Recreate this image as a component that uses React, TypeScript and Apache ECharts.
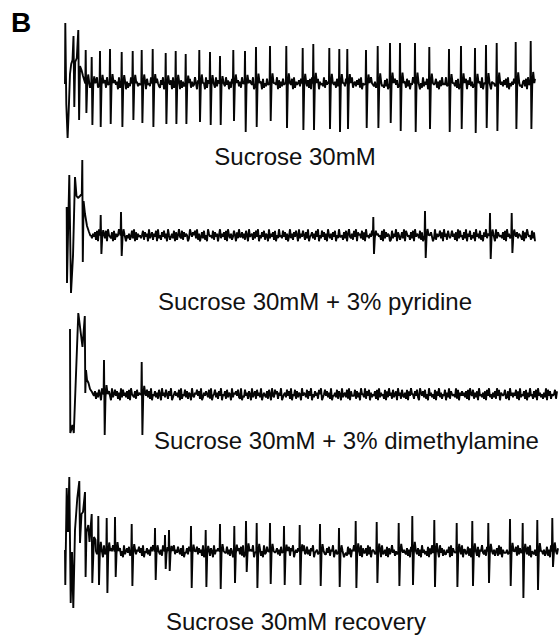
import React, { useEffect, useRef } from "react";
import * as echarts from "echarts";

// ---------- Data (time along the sweep, amplitude in µV-like units) ----------
const LABELS = [
  "Sucrose 30mM",
  "Sucrose 30mM + 3% pyridine",
  "Sucrose 30mM + 3% dimethylamine",
  "Sucrose 30mM recovery",
];
const PANEL_LETTER = "B";

const TRACE_END = [535, 535, 557, 558];
const NOISE_START = [85, 91, 94, 96];

// onset artefacts [time, amplitude]
const ONSET_1: number[][] = [
  [65, 0], [65.3, 61], [66.3, -20], [67.6, -54], [68.6, -30], [70, 10], [71.2, 20], [72.5, 24],
  [73.5, 48], [74.3, -23], [75.2, 22], [76.8, 26], [78.3, 54], [79.1, -36], [80, 18], [81.5, 14],
  [83, 8], [84.5, 3],
];
const ONSET_2: number[][] = [
  [66.7, 29], [67, -47], [69.3, 61], [71, -57], [73, -20], [75, 59], [76.5, 40], [78, 38], [80, 40],
  [81.8, 42], [82.3, 76], [82.8, -26], [83.6, 35], [85, 22], [87, 10], [89, 4], [90.5, 0],
];
const ONSET_3: number[][] = [
  [70, 66], [70.3, -38], [72.5, -30], [73.8, -38], [78.3, 82], [82.5, 48], [84.8, 79], [85.3, 2],
  [86, 25], [87, 15], [88.5, 12], [90, 6], [92, 3], [93.5, 0],
];
const ONSET_4: number[][] = [
  [65, 2], [65.3, -33], [66.7, 64], [68, 20], [69.3, 75], [70.7, -51], [72, 0], [73.3, -56],
  [75, 22], [77.3, 54], [79.3, 71], [80, 9], [81.5, 38], [83, 40], [85, 60], [85.6, -25],
  [86.5, 20], [88.3, 27], [89.5, 10], [91.7, 38], [92.3, -31], [94, 15], [95.5, 12],
];

// spikes: time, upward peak, downward trough
const SPIKE_T_1 = [85.7, 91.7, 100, 110, 121.7, 132.7, 141.7, 152.7, 165.7, 175.7, 185.7, 199.3, 210, 220, 233.3, 245, 256, 270, 286.3, 302.7, 313.3, 329.3, 339.3, 347.3, 366, 377.7, 390, 400, 415, 429.3, 449, 461, 475, 486, 496.7, 515.7, 530.7];
const SPIKE_UP_1 = [34, 27, 33, 35, 32, 33, 34, 35, 31, 33, 30, 34, 32, 28, 34, 33, 37, 38, 38, 36, 40, 36, 35, 35, 34, 38, 41, 41, 41, 37, 35, 38, 36, 39, 41, 42, 43];
const SPIKE_DOWN_1 = [29, 41, 43, 40, 43, 36, 39, 43, 40, 40, 40, 38, 41, 41, 37, 48, 43, 37, 44, 46, 46, 45, 48, 45, 44, 44, 39, 47, 48, 45, 48, 45, 49, 44, 47, 45, 45];

const SPIKE_T_2 = [100.7, 121, 373.3, 425, 490, 511.7];
const SPIKE_UP_2 = [21, 24, 19, 25, 23, 23];
const SPIKE_DOWN_2 = [18, 20, 18, 22, 23, 17];

const SPIKE_T_3 = [104, 141.7];
const SPIKE_UP_3 = [35, 33];
const SPIKE_DOWN_3 = [40, 40];

const SPIKE_T_4 = [98.3, 106.7, 115, 131.7, 155, 165, 169, 191, 205.7, 220, 234.3, 246, 256.7, 270, 284, 299.7, 320, 339, 355.7, 376.7, 398.7, 412.3, 434.3, 456.7, 472.3, 488.3, 510, 522.7, 537.3, 552.3];
const SPIKE_UP_4 = [36, 34, 35, 28, 24, 17, 22, 26, 22, 28, 26, 31, 29, 29, 26, 27, 28, 24, 31, 30, 29, 36, 32, 29, 31, 29, 33, 29, 32, 34];
const SPIKE_DOWN_4 = [33, 41, 25, 34, 28, 17, 19, 36, 35, 37, 31, 20, 36, 32, 33, 33, 34, 35, 36, 31, 34, 33, 35, 35, 34, 31, 34, 46, 38, 15];

// baseline noise, read as digits 0..9 (4.5 = baseline), one sample per time unit
const NOISE_1 =
  "46358274153692648153729461835274619253847162539481" +
  "72635493726184539271648532749163528471926354817263" +
  "94571826349517263845192736481529374618253947162835" +
  "48173629541836275491529374618253847162935491726384" +
  "51362748192645738192463728194537281645392746185394" +
  "62839471553827461925637482915463728195436271859342" +
  "73816452938472615394628371549263847152936481725394" +
  "58261739454938271645372819463528174936251847362915" +
  "47392816553728194637482915364827159342673819462537" +
  "81942736553619284753928164735261948372615394827163";
const NOISE_2 =
  "53647281934627381954371826459362748153624839172645" +
  "35827461935726481935274836195246381725943827465139" +
  "64758392614738251964538274615936472819536248517394" +
  "47362851945627384915374826519364728153945384726149" +
  "36274851936485273914573628491538472619536274815394" +
  "45273816943628491756382719453648291736452819374651" +
  "28364917524739186452738194653827149362857413926458" +
  "37194628535846271938452739164825371946382517493628" +
  "46281937545372819463529184736542817396452837194625" +
  "39472815666381927454728361945236471859342681739452";
const NOISE_3 =
  "47263851946358274193584726193846372819543728465193" +
  "56483729154736285194638527491357463819254837265194" +
  "36584729136475382914583627491547283651936574832914" +
  "38462751935728463914643728519438572649135638472915" +
  "48273651946538274915374628591358473629144638275193" +
  "56382917444827361955392748163547281936452817394628" +
  "35719462843628174955274831964738251946352817493625" +
  "48163927545392816474637281954826371945362718493526" +
  "37294816545823719463648271935472816394527381946352" +
  "63918472545827361943749281653648172935462817394625";
const NOISE_4 =
  "53728461934628375914638472519357482639143658472915" +
  "47362859135847362914362847519364853729144738265193" +
  "58374629143648275193657483291448362751935647382915" +
  "37284659146483725193485736291457362849153648275914" +
  "64728351934836275914563847291337482659146385274913" +
  "42837165946538291744729381565384726193462817359462" +
  "53819274643726185945837261946352817394628351947263" +
  "36481927545274839166348271953742816594362817459362" +
  "57293816444638271955829374616473829154362719485362" +
  "48261937555374829163648271945372816394527381946253";

const NOISE_GAIN = 1.5;
const NOISE_STEP = 1;

function buildTrace(
  onset: number[][],
  noise: string,
  noiseStart: number,
  end: number,
  spikeT: number[],
  spikeUp: number[],
  spikeDown: number[]
): number[][] {
  const pts: number[][] = onset.map((p) => [p[0], p[1]]);
  const digits = noise.split("").map(Number);
  const nearSpike = (t: number) => spikeT.some((s) => t > s - 1.2 && t < s + 4.2);
  for (let i = 0; i < digits.length; i++) {
    const t = noiseStart + i * NOISE_STEP;
    if (t > end) break;
    if (nearSpike(t)) continue;
    pts.push([t, (digits[i] - 4.5) * NOISE_GAIN]);
  }
  spikeT.forEach((s, k) => {
    pts.push(
      [s - 0.4, 0.5],
      [s, spikeUp[k]],
      [s + 0.7, -spikeDown[k]],
      [s + 1.5, -2],
      [s + 2.5, spikeUp[k] * 0.28],
      [s + 3.6, 1]
    );
  });
  pts.sort((a, b) => a[0] - b[0]);
  return pts;
}

export default function App() {
  const ref = useRef<HTMLDivElement>(null);
  useEffect(() => {
    document.body.style.margin = "0";
    if (!ref.current) return;
    const chart = echarts.init(ref.current, undefined, { renderer: "svg" });

    const traces = [
      buildTrace(ONSET_1, NOISE_1, NOISE_START[0], TRACE_END[0], SPIKE_T_1, SPIKE_UP_1, SPIKE_DOWN_1),
      buildTrace(ONSET_2, NOISE_2, NOISE_START[1], TRACE_END[1], SPIKE_T_2, SPIKE_UP_2, SPIKE_DOWN_2),
      buildTrace(ONSET_3, NOISE_3, NOISE_START[2], TRACE_END[2], SPIKE_T_3, SPIKE_UP_3, SPIKE_DOWN_3),
      buildTrace(ONSET_4, NOISE_4, NOISE_START[3], TRACE_END[3], SPIKE_T_4, SPIKE_UP_4, SPIKE_DOWN_4),
    ];

    // y ranges per panel (1 unit = 1 px)
    const yRanges = [
      [-60, 70],
      [-70, 90],
      [-60, 90],
      [-70, 90],
    ];
    const gridTops = [14, 146, 305, 462];

    const font = "'Liberation Sans', Arial, Helvetica, sans-serif";
    const labelPos = [
      [295, 156.7],
      [315, 301.7],
      [346.5, 440.5],
      [296, 621.5],
    ];

    chart.setOption({
      animation: false,
      backgroundColor: "#ffffff",
      grid: yRanges.map((r, i) => ({
        left: 0,
        right: 0,
        top: gridTops[i],
        height: r[1] - r[0],
      })),
      xAxis: yRanges.map((_, i) => ({
        type: "value",
        gridIndex: i,
        min: 0,
        max: 560,
        show: false,
      })),
      yAxis: yRanges.map((r, i) => ({
        type: "value",
        gridIndex: i,
        min: r[0],
        max: r[1],
        show: false,
      })),
      series: traces.map((data, i) => ({
        type: "line",
        xAxisIndex: i,
        yAxisIndex: i,
        data,
        showSymbol: false,
        symbol: "none",
        clip: false,
        silent: true,
        lineStyle: { color: "#050505", width: 1.9 },
      })),
      graphic: [
        {
          type: "text",
          x: 11,
          y: 22,
          style: {
            text: PANEL_LETTER,
            font: `bold 28px ${font}`,
            fill: "#000",
            align: "left",
            verticalAlign: "middle",
          },
        },
        ...LABELS.map((t, i) => ({
          type: "text",
          x: labelPos[i][0],
          y: labelPos[i][1],
          style: {
            text: t,
            font: `24px ${font}`,
            fill: "#111",
            align: "center",
            verticalAlign: "middle",
          },
        })),
      ],
    });
    return () => chart.dispose();
  }, []);
  return <div ref={ref} style={{ width: 560, height: 641 }} />;
}
